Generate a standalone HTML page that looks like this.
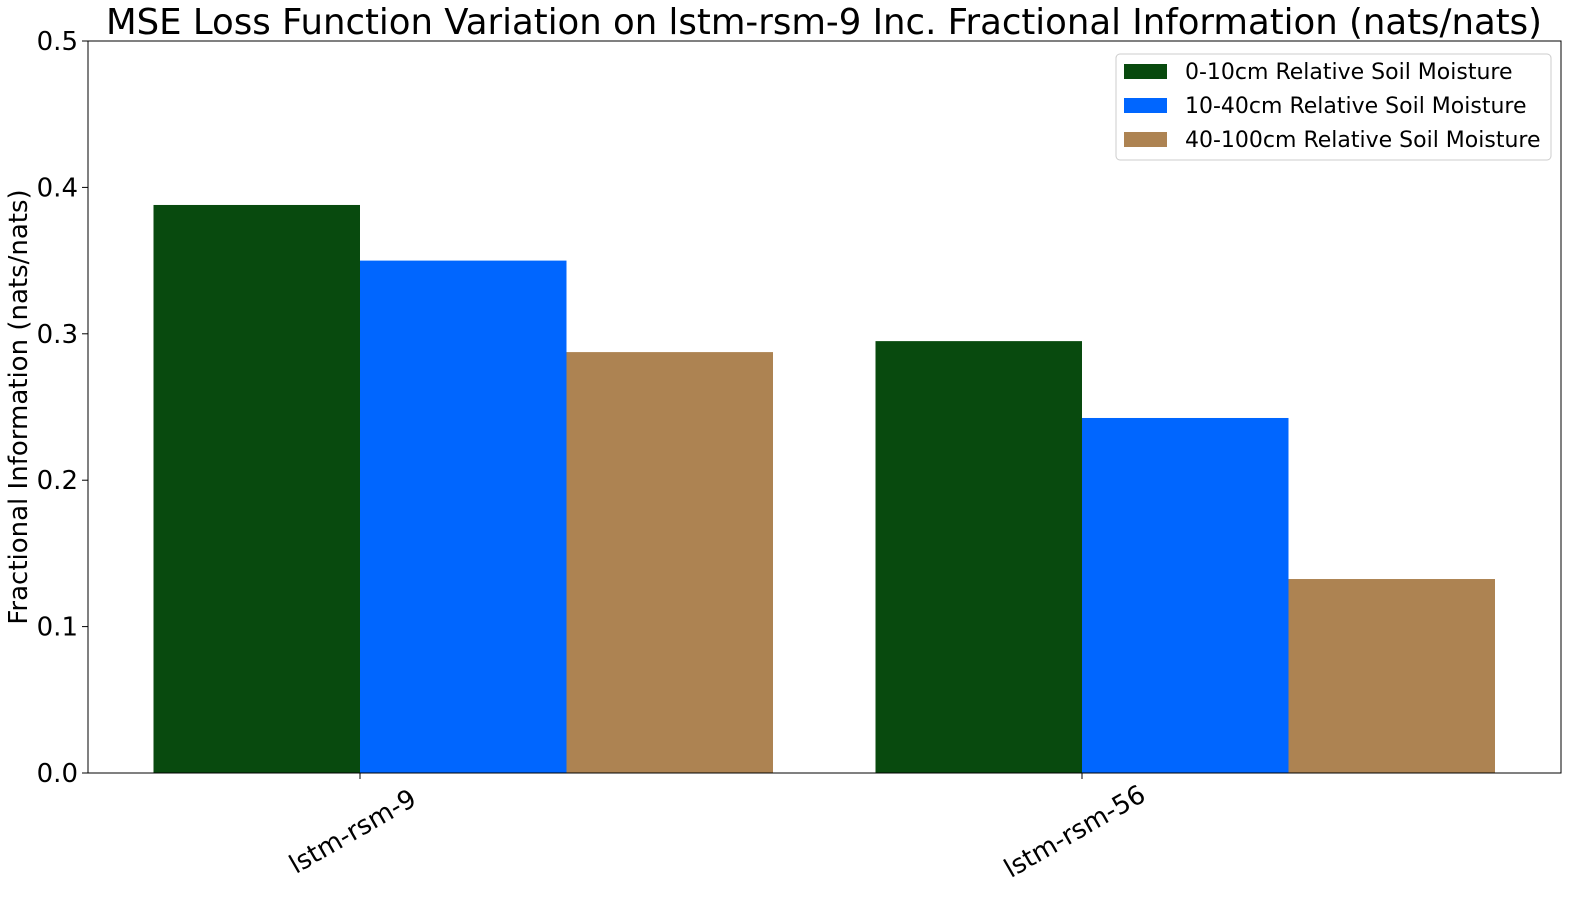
<!DOCTYPE html>
<html><head><meta charset="utf-8"><style>html,body{margin:0;background:#fff;overflow:hidden;width:1584px;height:900px}svg{display:block;font-family:"DejaVu Sans","Liberation Sans",sans-serif}</style></head>
<body>
<svg id="chart" width="1584" height="900">
<text x="824" y="34" font-size="35.5" text-anchor="middle">MSE Loss Function Variation on lstm-rsm-9 Inc. Fractional Information (nats/nats)</text>
<text transform="translate(27,407) rotate(-90)" font-size="26" text-anchor="middle">Fractional Information (nats/nats)</text>
<g id="bars"></g><g id="axes"></g>
<g>
<rect x="1116" y="54" width="435" height="106" rx="4" fill="#fff" stroke="#ccc"/>
<rect x="1124" y="64" width="43" height="15" fill="#084a0e"/>
<text x="1185" y="79" font-size="22">0-10cm Relative Soil Moisture</text>
<rect x="1124" y="98" width="43" height="15" fill="#0066ff"/>
<text x="1185" y="113" font-size="22">10-40cm Relative Soil Moisture</text>
<rect x="1124" y="132" width="43" height="15" fill="#ad8352"/>
<text x="1185" y="147" font-size="22">40-100cm Relative Soil Moisture</text>
</g>
</svg>
<script>
const categories=["lstm-rsm-9","lstm-rsm-56"];
const series0=[0.388,0.295];
const series1=[0.350,0.2425];
const series2=[0.2875,0.1325];
const yTicks=[0.0,0.1,0.2,0.3,0.4,0.5];
const seriesNames=["0-10cm","10-40cm","40-100cm"];
const colors=["#084a0e","#0066ff","#ad8352"];
const NS="http://www.w3.org/2000/svg";
const L=88,R=1561,T=41,B=773;
const y=v=>B-(v/0.5)*(B-T);
const centers=[360,1082];
const x=i=>centers[0]+(centers[1]-centers[0])*i;
const bw=206.5;
function mk(t,a,p){const e=document.createElementNS(NS,t);for(const k in a)e.setAttribute(k,a[k]);p.appendChild(e);return e;}
const bars=document.getElementById('bars'),axes=document.getElementById('axes');
[series0,series1,series2].forEach((s,si)=>{s.forEach((v,i)=>{
 const r=mk('rect',{x:x(i)+(si-1)*bw,y:y(v),width:bw,height:B-y(v),fill:colors[si]},bars);
 
 
});});
const frame=mk('rect',{x:L,y:T,width:R-L,height:B-T,fill:'none',stroke:'#000','stroke-width':1},axes);


yTicks.forEach(v=>{
 mk('line',{x1:L-6,x2:L,y1:y(v),y2:y(v),stroke:'#000'},axes);
 const t=mk('text',{x:L-10,y:y(v)+9,'font-size':26,'text-anchor':'end'},axes);t.textContent=v.toFixed(1);
 
 
});
categories.forEach((c,i)=>{
 mk('line',{x1:x(i),x2:x(i),y1:B,y2:B+6,stroke:'#000'},axes);
 const t=mk('text',{transform:`translate(${x(i)-3},${B+66}) rotate(-30)`,'font-size':26,'text-anchor':'middle'},axes);t.textContent=c;
 
 
});
</script>
</body></html>
